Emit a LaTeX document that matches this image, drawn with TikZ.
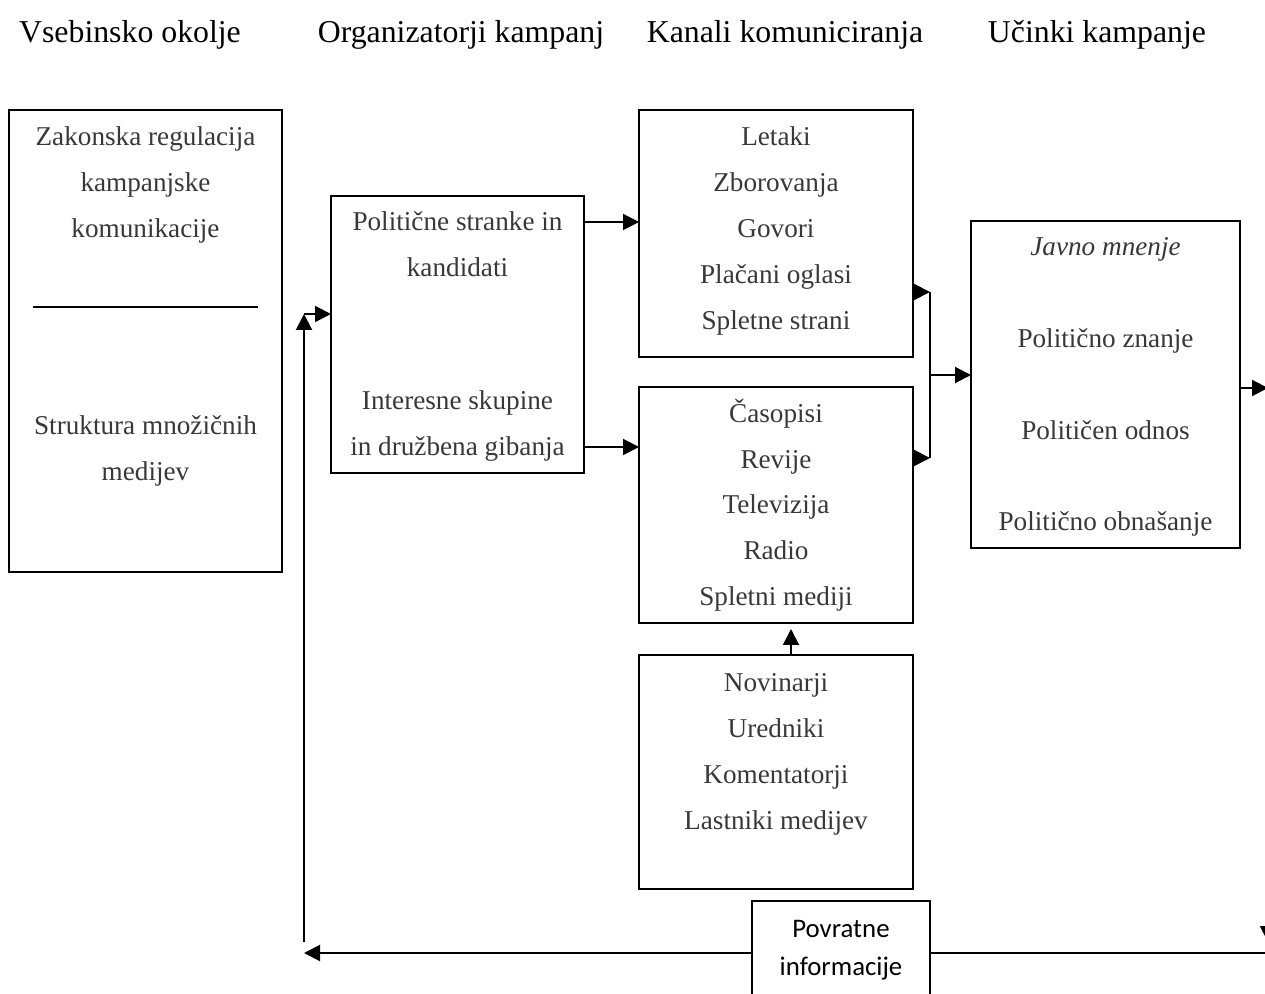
\documentclass[tikz,border=0pt]{standalone}
\usepackage{fontspec}
\setmainfont{Liberation Serif}
\newfontfamily\fbfont{Carlito}
\usetikzlibrary{arrows.meta, calc}

\tikzset{
  box/.style  = {draw, line width=1pt, inner sep=0pt, outer sep=0pt,
                 anchor=north west},
  txt/.style  = {font=\fontsize{13.6}{23}\selectfont, align=center,
                 anchor=base, inner sep=0pt, text=black!78},
  head/.style = {font=\fontsize{15.9}{19}\selectfont, anchor=base,
                 inner sep=0pt},
  arr/.style  = {-{Triangle[length=8pt, width=8pt]}, line width=1pt},
  lin/.style  = {line width=1pt}
}

\begin{document}
\begin{tikzpicture}[x=0.5pt, y=-0.5pt]

  \useasboundingbox (0,0) rectangle (1265,994);
  \clip (0,0) rectangle (1265,994);

  %% -- Headings ----------------------------------------------------
  \node[head] (h1) at ( 130,43) {Vsebinsko okolje};
  \node[head] (h2) at ( 461,43) {Organizatorji kampanj};
  \node[head] (h3) at ( 785,43) {Kanali komuniciranja};
  \node[head] (h4) at (1097,43) {Učinki kampanje};

  %% -- Boxes -------------------------------------------------------
  \node[box, minimum width=136.5pt, minimum height=231pt]   (envbox) at (  9,110) {};
  \node[box, minimum width=126.5pt, minimum height=138.5pt] (orgbox) at (331,196) {};
  \node[box, minimum width=137pt,   minimum height=123.5pt] (topch)  at (639,110) {};
  \node[box, minimum width=137pt,   minimum height=118pt]   (midch)  at (639,387) {};
  \node[box, minimum width=137pt,   minimum height=117pt]   (jourbox) at (639,655) {};
  \node[box, minimum width=134.5pt, minimum height=163.5pt] (effbox) at (971,221) {};
  \node[box, minimum width=89pt,    minimum height=52pt]    (fbbox)  at (752,901) {};

  %% -- Texts (anchored at the baseline of the last line) ------------
  \node[txt] (envA) at (145.5,238) {Zakonska regulacija\\kampanjske\\komunikacije};
  \draw[line width=0.6pt] (33,307) -- (258,307);
  \node[txt] (envB) at (145.5,481) {Struktura množičnih\\medijev};

  \node[txt] (orgA) at (457.5,277) {Politične stranke in\\kandidati};
  \node[txt] (orgB) at (457.5,456) {Interesne skupine\\in družbena gibanja};

  \node[txt] (topT) at (776,330) {Letaki\\Zborovanja\\Govori\\Plačani oglasi\\Spletne strani};
  \node[txt] (midT) at (776,606) {Časopisi\\Revije\\Televizija\\Radio\\Spletni mediji};
  \node[txt] (jourT) at (776,829) {Novinarji\\Uredniki\\Komentatorji\\Lastniki medijev};

  \node[txt] (effT) at (1105.5,531) {\textit{Javno mnenje}\\[23pt]Politično znanje\\[23pt]Političen odnos\\[23pt]Politično obnašanje};

  \node[txt, text=black, font=\fbfont\fontsize{13.4}{19}\selectfont] (fbT) at (841,975)
    {Povratne\\informacije};

  %% -- Connectors --------------------------------------------------
  % organizatorji -> kanali
  \coordinate (o1) at ([yshift=-13pt]orgbox.north east);
  \coordinate (o2) at ([yshift=13pt]orgbox.south east);
  \draw[arr] (o1) -- (o1 -| topch.west);
  \draw[arr] (o2) -- (o2 -| midch.west);

  % kanali -> ucinki
  \coordinate (b1) at ([xshift=8.5pt, yshift=32.5pt]topch.south east);
  \coordinate (b2) at ([xshift=8.5pt, yshift=-35.5pt]midch.north east);
  \draw[arr] (topch.east |- b1) -- (b1);
  \draw[arr] (midch.east |- b2) -- (b2);
  \draw[lin] (b1) -- (b2);
  \coordinate (bm) at ($(b1)!0.5!(b2)$);
  \draw[arr] (bm) -- (bm -| effbox.west);

  % novinarji -> kanali
  \draw[arr] ([xshift=7.5pt]jourbox.north) -- ([xshift=7.5pt, yshift=-3pt]midch.south);

  % ucinki -> out, feedback loop
  \coordinate (out) at (1268,388);
  \draw[arr] (effbox.east |- out) -- (out);
  \coordinate (dn0) at (1268,420);
  \coordinate (dn1) at (1268,942);
  \draw[arr] (dn0) -- (dn1);
  \coordinate (fbr) at (1268,953);
  \draw[lin] (fbr) -- (fbr -| fbbox.east);
  \coordinate (up0) at (304,942);
  \coordinate (up1) at (304,314);
  \draw[arr] (fbbox.west |- fbr) -- (fbr -| up0);
  \draw[arr] (up0) -- (up1);
  \draw[arr] (up1) -- (up1 -| orgbox.west);

\end{tikzpicture}
\end{document}
